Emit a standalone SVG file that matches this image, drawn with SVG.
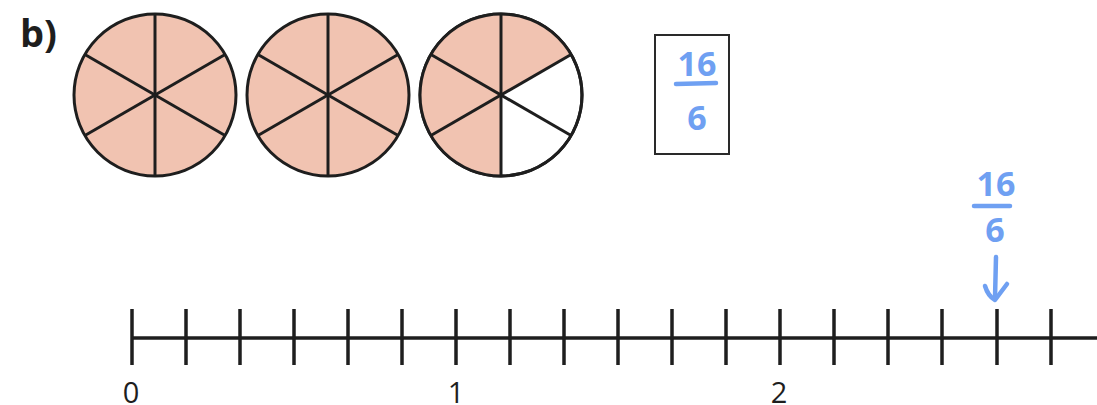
<svg xmlns="http://www.w3.org/2000/svg" width="1097" height="405" viewBox="0 0 1097 405">
<defs>
<style>
.pie{stroke:#1e1e1e;stroke-width:3;}
.sh{fill:#f1c3b1;}
.sp{stroke:#1e1e1e;stroke-width:3;fill:none;}
.tick{stroke:#1e1e1e;stroke-width:3.5;}
.num{font-family:"Open Sans","Noto Sans",sans-serif;font-size:29px;fill:#1e1e1e;text-anchor:middle;}
.hw{font-family:"Noto Sans","Open Sans",sans-serif;font-size:34px;font-weight:bold;fill:#6fa0f2;text-anchor:middle;}
.hwl{stroke:#6fa0f2;stroke-width:4.5;stroke-linecap:round;fill:none;stroke-linejoin:round;}
</style>
<g id="spokes">
<line x1="0" y1="-81" x2="0" y2="81" class="sp"/>
<line x1="-70.1" y1="-40.5" x2="70.1" y2="40.5" class="sp"/>
<line x1="-70.1" y1="40.5" x2="70.1" y2="-40.5" class="sp"/>
</g>
</defs>
<rect width="1097" height="405" fill="#ffffff"/>
<text x="20" y="47" font-family="Open Sans, Noto Sans, sans-serif" font-weight="bold" font-size="38" fill="#1e1e1e">b)</text>

<g id="circle1" transform="translate(155,95)">
<circle r="81" class="pie sh"/>
<use href="#spokes"/>
</g>
<g id="circle2" transform="translate(328,95)">
<circle r="81" class="pie sh"/>
<use href="#spokes"/>
</g>
<g id="circle3" transform="translate(501,95)">
<circle r="81" fill="#ffffff" class="pie"/>
<path d="M0,0 L0,-81 A81,81 0 0 1 70.1,-40.5 Z" class="sh"/>
<path d="M0,0 L0,-81 A81,81 0 0 0 0,81 Z" class="sh"/>
<circle r="81" fill="none" class="pie"/>
<use href="#spokes"/>
</g>

<g id="box">
<rect x="655" y="35" width="74" height="119" fill="#ffffff" stroke="#2a2a2a" stroke-width="2"/>
<text x="697" y="76" class="hw">16</text>
<line x1="676" y1="84" x2="716" y2="83" class="hwl"/>
<text x="697" y="130" class="hw">6</text>
</g>

<g id="numberline">
<line x1="132" y1="338" x2="1097" y2="338" stroke="#1e1e1e" stroke-width="3.5"/>
<g class="tick">
<line x1="132" y1="309" x2="132" y2="365"/>
<line x1="186" y1="309" x2="186" y2="365"/>
<line x1="240" y1="309" x2="240" y2="365"/>
<line x1="294" y1="309" x2="294" y2="365"/>
<line x1="348" y1="309" x2="348" y2="365"/>
<line x1="402" y1="309" x2="402" y2="365"/>
<line x1="456" y1="309" x2="456" y2="365"/>
<line x1="510" y1="309" x2="510" y2="365"/>
<line x1="564" y1="309" x2="564" y2="365"/>
<line x1="618" y1="309" x2="618" y2="365"/>
<line x1="672" y1="309" x2="672" y2="365"/>
<line x1="726" y1="309" x2="726" y2="365"/>
<line x1="780" y1="309" x2="780" y2="365"/>
<line x1="834" y1="309" x2="834" y2="365"/>
<line x1="888" y1="309" x2="888" y2="365"/>
<line x1="942" y1="309" x2="942" y2="365"/>
<line x1="997" y1="309" x2="997" y2="365"/>
<line x1="1051" y1="309" x2="1051" y2="365"/>
</g>
<text x="131" y="403" class="num">0</text>
<text x="456" y="403" class="num">1</text>
<text x="779" y="403" class="num">2</text>
</g>

<g id="marker">
<text x="996" y="196" class="hw">16</text>
<line x1="974" y1="206" x2="1010" y2="206" class="hwl"/>
<text x="995" y="242" class="hw">6</text>
<path d="M996,257 L995,298" class="hwl"/>
<path d="M985,286 Q988,296 995,300 Q1001,292 1007,284" class="hwl"/>
</g>
</svg>
